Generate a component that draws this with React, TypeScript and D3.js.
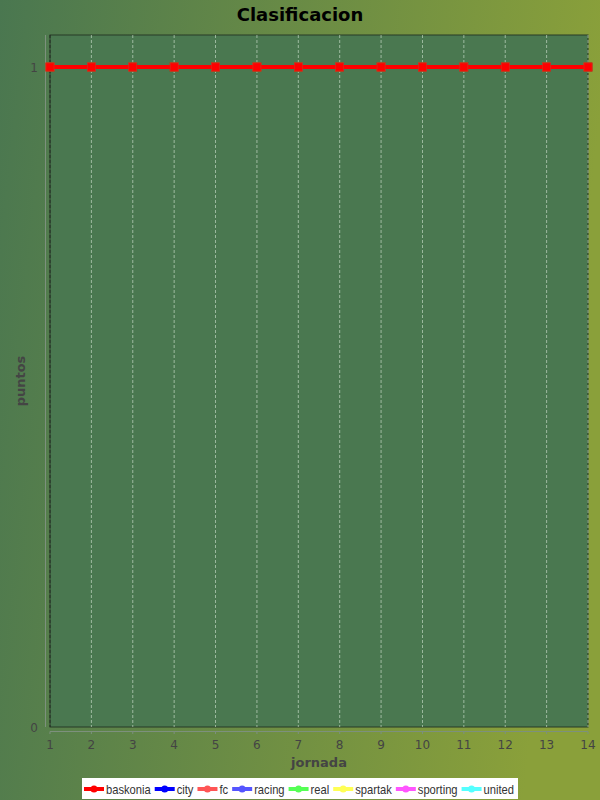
import React from "react";
import * as d3 from "d3";

const jornadas = [1, 2, 3, 4, 5, 6, 7, 8, 9, 10, 11, 12, 13, 14];
const seriesNames = ["baskonia", "city", "fc", "racing", "real", "spartak", "sporting", "united"];
const seriesColors = ["#ff0000", "#0000ff", "#ff5555", "#5555ff", "#55ff55", "#ffff55", "#ff55ff", "#55ffff"];
const baskonia = [1, 1, 1, 1, 1, 1, 1, 1, 1, 1, 1, 1, 1, 1];
const city = [1, 1, 1, 1, 1, 1, 1, 1, 1, 1, 1, 1, 1, 1];
const fc = [1, 1, 1, 1, 1, 1, 1, 1, 1, 1, 1, 1, 1, 1];
const racing = [1, 1, 1, 1, 1, 1, 1, 1, 1, 1, 1, 1, 1, 1];
const real = [1, 1, 1, 1, 1, 1, 1, 1, 1, 1, 1, 1, 1, 1];
const spartak = [1, 1, 1, 1, 1, 1, 1, 1, 1, 1, 1, 1, 1, 1];
const sporting = [1, 1, 1, 1, 1, 1, 1, 1, 1, 1, 1, 1, 1, 1];
const united = [1, 1, 1, 1, 1, 1, 1, 1, 1, 1, 1, 1, 1, 1];
const yTicks = [0, 1];

const allValues = [baskonia, city, fc, racing, real, spartak, sporting, united];

const font = "Tahoma, 'DejaVu Sans', sans-serif";
const legendFamily = "'Liberation Sans', Arial, sans-serif";
const legendFontSize = 13;
const legendFontCss = `${legendFontSize}px 'Liberation Sans'`;

function measure(s: string): number {
  if (typeof document === "undefined") return s.length * 6.5;
  const c = document.createElement("canvas").getContext("2d");
  if (!c) return s.length * 6.5;
  c.font = legendFontCss;
  return c.measureText(s).width;
}

export default function App() {
  const W = 600, H = 800;
  const left = 50, right = 588, top = 35, bottom = 727;
  const x = d3.scaleLinear().domain([1, 14]).range([left, right]);
  const y = d3.scaleLinear().domain([0, 1.0485]).range([bottom, top]);
  const line = d3.line<number>().x((_, i) => x(jornadas[i])).y((v) => y(v));

  // legend layout: fit into the reference's box width
  const swatchW = 20, gapA = 2, gapB = 4;
  const targetTextTotal = 436 - 2 - seriesNames.length * (swatchW + gapA + gapB);
  const rawW = seriesNames.map(measure);
  const rawTotal = rawW.reduce((a, b) => a + b, 0);
  const k = targetTextTotal / rawTotal;
  const textWs = rawW.map((w) => w * k);
  const totalW = textWs.reduce((a, b) => a + b, 0) + seriesNames.length * (swatchW + gapA + gapB);
  let lx = 300 - totalW / 2 + 1;
  const legendItems = seriesNames.map((n, i) => {
    const o = { n, x: lx, tw: textWs[i], color: seriesColors[i] };
    lx += swatchW + gapA + textWs[i] + gapB;
    return o;
  });

  const order = seriesNames.map((_, i) => i).reverse();

  return (
    <svg width={W} height={H} style={{ position: "absolute", left: 0, top: 0 }}>
      <defs>
        <linearGradient id="bg" x1="0" y1="0" x2="1" y2="0.15">
          <stop offset="0%" stopColor="#4a7750" />
          <stop offset="100%" stopColor="#8aa03a" />
        </linearGradient>
      </defs>
      <rect x={0} y={0} width={W} height={H} fill="url(#bg)" />
      <text x={300} y={21} textAnchor="middle" fontFamily={font} fontWeight="bold" fontSize={18} fill="#000">
        Clasificacion
      </text>
      <rect x={left} y={top} width={right - left} height={bottom - top} fill="#4a7850" stroke="#263a26" strokeWidth={1} />
      {jornadas.map((j) => (
        <line key={j} x1={x(j)} x2={x(j)} y1={top} y2={bottom}
          stroke={j === 1 ? "#222" : "#d8e8d8"} strokeWidth={0.8} strokeDasharray="3,2" opacity={j === 1 ? 1 : 0.75} />
      ))}
      {/* y axis */}
      <line x1={45.5} x2={45.5} y1={top} y2={bottom} stroke="#7d907d" />
      {yTicks.map((t) => (
        <text key={t} x={38} y={y(t) + 4.5} textAnchor="end" fontFamily={font} fontSize={12} fill="#444">{t}</text>
      ))}
      <text transform={`translate(25,${(top + bottom) / 2}) rotate(-90)`} textAnchor="middle"
        fontFamily={font} fontWeight="bold" fontSize={13} fill="#444">puntos</text>
      {/* x axis */}
      <line x1={left} x2={right} y1={731.5} y2={731.5} stroke="#7d907d" />
      {jornadas.map((j) => (
        <g key={j}>
          <line x1={x(j)} x2={x(j)} y1={731.5} y2={734} stroke="#7d907d" />
          <text x={x(j)} y={749} textAnchor="middle" fontFamily={font} fontSize={12} fill="#444">{j}</text>
        </g>
      ))}
      <text x={(left + right) / 2} y={767} textAnchor="middle" fontFamily={font} fontWeight="bold" fontSize={13} fill="#444">jornada</text>
      {/* series */}
      {order.map((i) => (
        <g key={seriesNames[i]}>
          <path d={line(allValues[i]) || ""} fill="none" stroke={seriesColors[i]} strokeWidth={4} />
          {allValues[i].map((v, kk) => (
            <rect key={kk} x={x(jornadas[kk]) - 4} y={y(v) - 4} width={8} height={8}
              fill={seriesColors[i]} stroke="#c04020" strokeWidth={0.5} />
          ))}
        </g>
      ))}
      {/* legend */}
      <rect x={82} y={778} width={436} height={21} fill="#fff" />
      {legendItems.map((it) => (
        <g key={it.n}>
          <line x1={it.x} x2={it.x + swatchW} y1={789} y2={789} stroke={it.color} strokeWidth={4} />
          <ellipse cx={it.x + swatchW / 2} cy={789} rx={3.5} ry={3.5} fill={it.color} />
          <text x={it.x + swatchW + gapA} y={793.5} fontFamily={legendFamily} fontSize={legendFontSize}
            textLength={it.tw} lengthAdjust="spacingAndGlyphs" fill="#333">{it.n}</text>
        </g>
      ))}
    </svg>
  );
}
